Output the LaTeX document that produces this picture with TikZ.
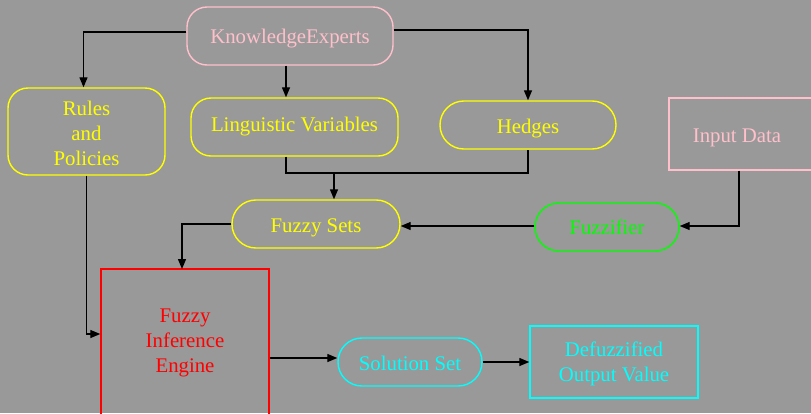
\documentclass[tikz,border=0pt]{standalone}
\usepackage{fontspec}
\setmainfont{Liberation Serif}
\usetikzlibrary{arrows.meta}
\definecolor{bggray}{HTML}{999999}
\definecolor{pinkc}{HTML}{FFC0CB}
\definecolor{yell}{HTML}{FFFF00}
\definecolor{grn}{HTML}{00FF00}
\definecolor{redc}{HTML}{FF0000}
\definecolor{cyanc}{HTML}{00FFFF}
\newcommand{\dn}[2]{\raisebox{-#1pt}[\height][\depth]{#2}}
\begin{document}
\begin{tikzpicture}[x=1pt,y=-1pt,
  every node/.style={font=\fontsize{20.8}{25}\selectfont, align=center, inner sep=0pt, line width=1.4pt},
  rbox/.style={draw, rectangle, rounded corners=20pt},
  stad/.style={draw, rectangle, rounded corners=23.9pt, minimum height=48pt},
  sbox/.style={draw, rectangle},
  arr/.style={line width=1.3pt, -{Triangle[length=10pt,width=8pt]}},
  ln/.style={line width=1.3pt}]
\fill[bggray] (0,0) rectangle (811,413);
\useasboundingbox (0,0) rectangle (811,413);
\begin{scope}
\clip (0,0) rectangle (811,413);
\node[rbox, pinkc, minimum width=206pt, minimum height=58pt] (ke) at (290,36) {\dn{2.5}{KnowledgeExperts}};
\node[rbox, yell, minimum width=157pt, minimum height=87pt] (rules) at (86.5,131.5) {\dn{3.5}{\begin{tabular}{@{}c@{}}Rules\\and\\Policies\end{tabular}}};
\node[rbox, yell, minimum width=207pt, minimum height=58pt] (lv) at (294.5,127) {Linguistic Variables};
\node[stad, yell, minimum width=176pt] (hedges) at (528,125) {\dn{3.5}{Hedges}};
\node[sbox, pinkc, minimum width=144pt, minimum height=72pt] (input) at (741,134) {\dn{4}{\hspace*{-8pt}Input Data}};
\node[stad, yell, minimum width=168pt] (fs) at (316,224) {\dn{3.5}{Fuzzy Sets}};
\node[stad, grn, minimum width=144pt] (fz) at (607,227) {Fuzzifier};
\node[sbox, redc, minimum width=168pt, minimum height=150pt] (fie) at (185,344) {\dn{-1.7}{\begin{tabular}{@{}c@{}}Fuzzy\\Inference\\Engine\end{tabular}}};
\node[stad, cyanc, minimum width=144pt] (ss) at (410,362) {\dn{1}{Solution Set}};
\node[sbox, cyanc, minimum width=168pt, minimum height=72pt] (dov) at (614,362) {\dn{2}{\begin{tabular}{@{}c@{}}Defuzzified\\Output Value\end{tabular}}};
\end{scope}
% connectors
\draw[arr] ([yshift=4pt]ke.west) -| ([xshift=-3pt]rules.north);
\draw[arr] ([xshift=-4pt]ke.south) -- ([xshift=-4pt]ke.south |- lv.north);
\draw[arr] ([yshift=6pt]ke.east) -| (hedges.north);
\coordinate (j) at (334,173);
\draw[ln] ([xshift=-8.5pt]lv.south) |- (j) -| (hedges.south);
\draw[arr] (j) -- (j |- fs.north);
\draw[arr] (rules.south) |- (fie.west |- 0,334);
\draw[arr] (fs.west) -| (182,269);
\draw[arr] ([yshift=1pt]fz.west) -- ([yshift=1pt]fz.west -| fs.east);
\draw[arr] ([xshift=-2pt]input.south) |- ([yshift=1pt]fz.east);
\coordinate (ssw) at ([yshift=4pt]ss.west);
\draw[arr] (ssw -| fie.east) -- (ssw);
\draw[arr] (ss.east) -- (dov.west);
\end{tikzpicture}
\end{document}
